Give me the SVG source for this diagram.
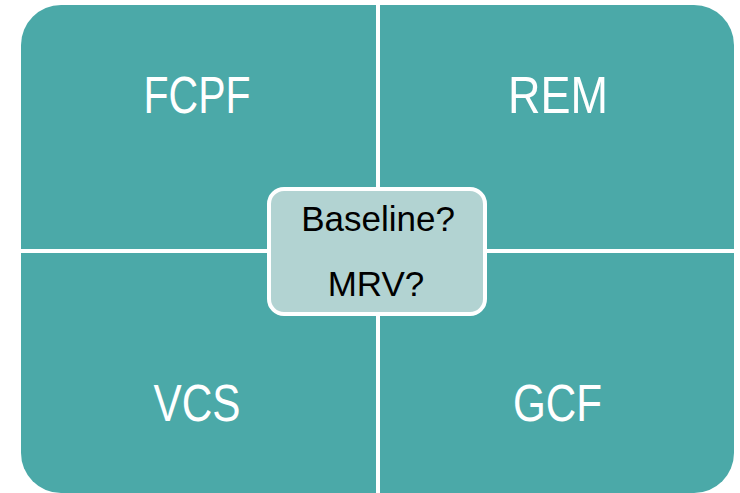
<svg xmlns="http://www.w3.org/2000/svg" width="740" height="493" viewBox="0 0 740 493">
<style>
.q{fill:#4BA9A8;}
.lbl{font-family:"Liberation Sans",Arial,sans-serif;font-size:52px;fill:#FFFFFF;text-anchor:middle;}
.ctr{fill:#B2D3D2;stroke:#FFFFFF;stroke-width:4;}
.ct{font-family:"Liberation Sans",Arial,sans-serif;font-size:35px;fill:#000000;text-anchor:middle;}
</style>
<rect width="740" height="493" fill="#FFFFFF"/>
<g id="fcpf">
<path class="q" d="M21,45 A40,40 0 0 1 61,5 L376,5 L376,249 L21,249 Z"/>
<text class="lbl" x="197" y="113" textLength="107" lengthAdjust="spacingAndGlyphs">FCPF</text>
</g>
<g id="rem">
<path class="q" d="M380,5 L694,5 A40,40 0 0 1 734,45 L734,249 L380,249 Z"/>
<text class="lbl" x="558" y="113" textLength="100" lengthAdjust="spacingAndGlyphs">REM</text>
</g>
<g id="vcs">
<path class="q" d="M21,253 L376,253 L376,493 L61,493 A40,40 0 0 1 21,453 Z"/>
<text class="lbl" x="197" y="421" textLength="87" lengthAdjust="spacingAndGlyphs">VCS</text>
</g>
<g id="gcf">
<path class="q" d="M380,253 L734,253 L734,453 A40,40 0 0 1 694,493 L380,493 Z"/>
<text class="lbl" x="557.5" y="421" textLength="89" lengthAdjust="spacingAndGlyphs">GCF</text>
</g>
<g id="center">
<rect class="ctr" x="269" y="189" width="216" height="125" rx="15" ry="15"/>
<text class="ct" x="378" y="231">Baseline?</text>
<text class="ct" x="376" y="296">MRV?</text>
</g>
<g id="connectors"></g>
</svg>
